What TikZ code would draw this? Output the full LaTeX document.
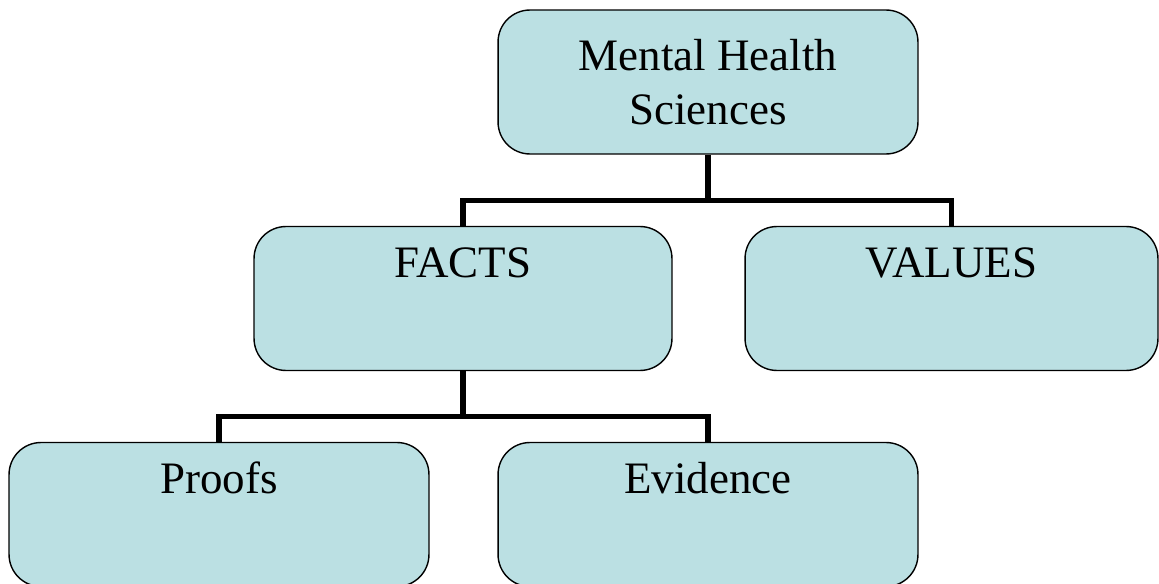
\documentclass[tikz,border=0pt]{standalone}
\usepackage{fontspec}
\setmainfont{Liberation Serif}
\definecolor{boxblue}{RGB}{187,224,227}

\begin{document}
\begin{tikzpicture}[x=0.02cm,y=-0.02cm,%
        bx/.style={draw, fill=boxblue, rounded corners=0.64cm,%
                        line width=0.8pt, inner sep=0pt, align=center,%
                        minimum width=8.4cm, minimum height=2.88cm,%
                        font=\fontsize{25.6}{30.7}\selectfont},
        tb/.style={text height=1cm, text depth=1.86cm},
        ln/.style={line width=3pt}]
    \useasboundingbox (0,0) rectangle (1159,584);
    \node[bx] (msci) at (708,82) {Mental Health\\Sciences};
    \node[bx,tb,minimum width=8.36cm] (facts) at (463,298.5) {FACTS};
    \node[bx,tb,minimum width=8.26cm] (values) at (951.5,298.5) {VALUES};
    \node[bx,tb] (proofs) at (219,514.5) {Proofs};
    \node[bx,tb] (evid) at (708,514.5) {Evidence};
    % tree lines
    \draw[ln] (msci.south) -- ++(0,48);
    \draw[ln] (facts.north) -- ++(0,-25) -| (values.north);
    \draw[ln] (facts.south) -- ++(0,48);
    \draw[ln] (proofs.north) -- ++(0,-25) -| (evid.north);
\end{tikzpicture}
\end{document}
